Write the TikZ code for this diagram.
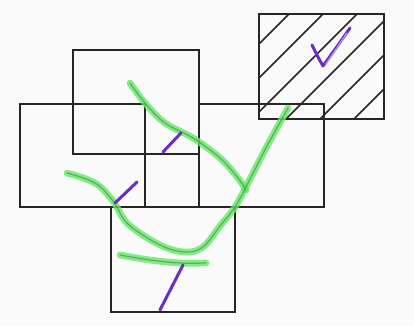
\documentclass[tikz,border=0pt]{standalone}
\usetikzlibrary{calc}

\definecolor{paper}{RGB}{250,250,250}
\definecolor{glowgreen}{RGB}{100,232,100}
\definecolor{coregreen}{RGB}{70,150,80}
\definecolor{inkpurple}{RGB}{105,45,200}

\tikzset{
    box/.style={draw=black!85, line width=1.1pt},
    hatchline/.style={draw=black!85, line width=0.9pt},
    greenglow/.style={glowgreen, line width=3.8pt, line cap=round, line join=round, opacity=0.8},
    greencore/.style={coregreen, line width=0.7pt, line cap=round, line join=round, opacity=0.7},
    purplestroke/.style={inkpurple, line width=1.7pt, line cap=round, line join=round}
}

\begin{document}
\begin{tikzpicture}[x=0.02cm, y=-0.02cm]
    % 1. Page and rectangle corners (pixel grid, y downwards)
    \fill[paper] (0,0) rectangle (414,326);
    \useasboundingbox (0,0) rectangle (414,326);

    \coordinate (TopNW) at (73,50);   \coordinate (TopSE) at (199,154);
    \coordinate (LeftNW) at (20,104); \coordinate (LeftSE) at (145,207);
    \coordinate (RightNW) at (199,104); \coordinate (RightSE) at (324,207);
    \coordinate (BotNW) at (111,207); \coordinate (BotSE) at (235,312);
    \coordinate (HatchNW) at (259,14); \coordinate (HatchSE) at (384,119);

    % 2. Hatched box (lines x+y=c)
    \begin{scope}
        \clip (HatchNW) rectangle (HatchSE);
        \foreach \c in {303,337,371,405,439,473}
            \draw[hatchline] (\c-150,150) -- (\c,0);
    \end{scope}

    % 3. The five boxes
    \draw[box] (TopNW) rectangle (TopSE);
    \draw[box] (LeftNW) rectangle (LeftSE);
    \draw[box] (RightNW) rectangle (RightSE);
    \draw[box] (BotNW) rectangle (BotSE);
    \draw[box] (HatchNW) rectangle (HatchSE);

    % 4. Green strokes
    \foreach \s in {greenglow, greencore} {
        \draw[\s] plot[smooth, tension=0.6] coordinates
            {(130,83) (145,103) (165,123) (193,138) (220,158) (238,178) (246,190)};
        \draw[\s] plot[smooth, tension=0.6] coordinates
            {(67,173) (95,183) (113,201) (128,224) (160,245) (185,252) (203,247)
             (220,226) (235,207) (247,185) (266,148) (288,108)};
        \draw[\s] plot[smooth, tension=0.6] coordinates
            {(120,255) (150,260) (180,263) (206,263)};
    }

    % 5. Purple strokes
    \draw[purplestroke] (163,152) -- (181,133);
    \draw[purplestroke] (115,203) -- (137,182);
    \draw[purplestroke] (160,310) -- (183,265);
    % check mark in the hatched box
    \draw[purplestroke] (312,45) -- (318,57) -- (323,66) -- (336,48) -- (350,28);
    \draw[inkpurple!50, line width=0.8pt, line cap=round] (326,64) -- (347,33);

\end{tikzpicture}
\end{document}
